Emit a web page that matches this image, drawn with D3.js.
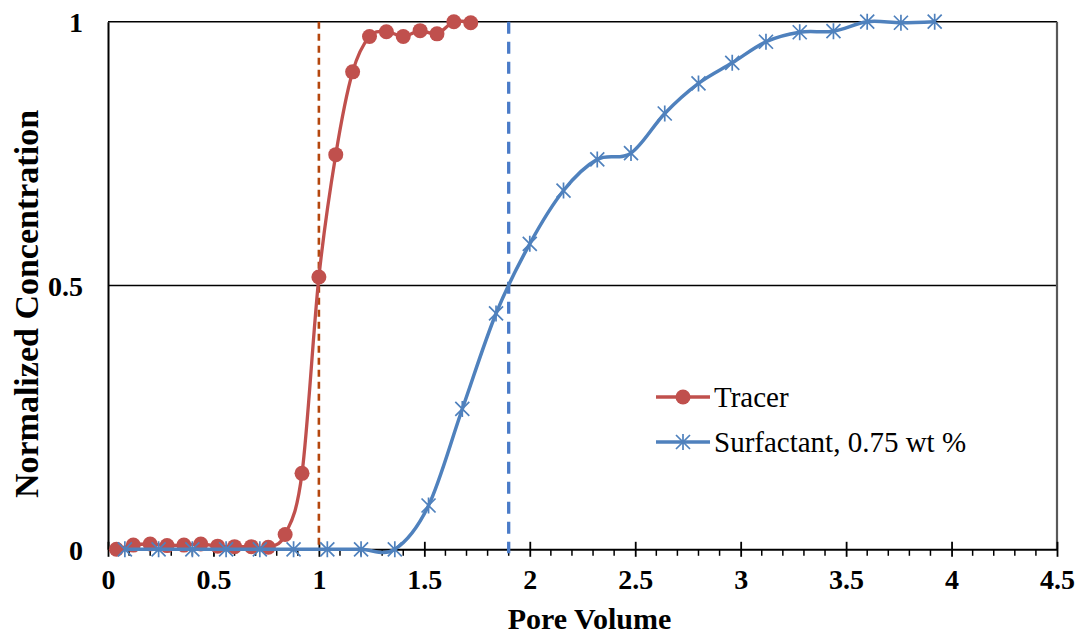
<!DOCTYPE html>
<html>
<head>
<meta charset="utf-8">
<script src="https://cdn.jsdelivr.net/npm/d3@7"></script>
<style>
  html, body { margin: 0; padding: 0; background: #fff; }
  svg { display: block; }
  svg text { font-family: "Liberation Serif", "Times New Roman", "DejaVu Serif", serif; }
</style>
</head>
<body>
<svg id="chart" width="1081" height="637"></svg>
<script>
// ---- data ----
const tracerPV = [0.04, 0.12, 0.20, 0.28, 0.36, 0.44, 0.52, 0.60, 0.68, 0.76, 0.84, 0.92, 1.00, 1.08, 1.16, 1.24, 1.32, 1.40, 1.48, 1.56, 1.64, 1.72];
const tracerC  = [0.000, 0.008, 0.010, 0.007, 0.008, 0.010, 0.006, 0.005, 0.005, 0.004, 0.028, 0.144, 0.516, 0.748, 0.905, 0.972, 0.981, 0.972, 0.983, 0.977, 1.000, 0.998];
const surfPV = [0.08, 0.24, 0.40, 0.56, 0.72, 0.88, 1.04, 1.20, 1.36, 1.52, 1.68, 1.84, 2.00, 2.16, 2.32, 2.48, 2.64, 2.80, 2.96, 3.12, 3.28, 3.44, 3.60, 3.76, 3.92];
const surfC  = [0, 0, 0, 0, 0, 0, 0, 0, 0, 0.083, 0.266, 0.447, 0.579, 0.680, 0.739, 0.751, 0.826, 0.883, 0.922, 0.962, 0.980, 0.982, 1.000, 0.998, 1.000];
const breakthroughPV = [1.0, 1.9];
const xTicks = [0, 0.5, 1, 1.5, 2, 2.5, 3, 3.5, 4, 4.5];
const xTickLabels = ["0", "0.5", "1", "1.5", "2", "2.5", "3", "3.5", "4", "4.5"];
const yTicks = [0, 0.5, 1];
const yTickLabels = ["0", "0.5", "1"];
const seriesNames = ["Tracer", "Surfactant, 0.75 wt %"];

// ---- layout ----
const svg = d3.select("#chart");
const x = d3.scaleLinear().domain([0, 4.5]).range([108, 1057]);
const y = d3.scaleLinear().domain([0, 1]).range([549.3, 21.7]);
const RED = "#c0504d", BLUE = "#4f81bd";
const serif = '"Liberation Serif", "Times New Roman", "DejaVu Serif", serif';

// gridlines (0.5 and 1)
svg.append("g").selectAll("line").data([0.5, 1]).join("line")
  .attr("x1", x(0)).attr("x2", x(4.5))
  .attr("y1", d => y(d)).attr("y2", d => y(d))
  .attr("stroke", "#000").attr("stroke-width", 1.5);

// right border
svg.append("line").attr("x1", x(4.5)).attr("x2", x(4.5))
  .attr("y1", y(1)).attr("y2", y(0))
  .attr("stroke", "#595959").attr("stroke-width", 2.2);

// minor ticks on x axis
const minor = d3.range(0, 45).map(i => i / 10).filter(v => Math.abs(v * 2 - Math.round(v * 2)) > 1e-6);
svg.append("g").selectAll("line").data(minor).join("line")
  .attr("x1", d => x(d)).attr("x2", d => x(d))
  .attr("y1", y(0)).attr("y2", y(0) + 6.5)
  .attr("stroke", "#000").attr("stroke-width", 1.5);

// x axis with major ticks crossing
const xAxis = d3.axisBottom(x).tickValues(xTicks).tickFormat((d, i) => xTickLabels[i]).tickSizeInner(0).tickSizeOuter(0).tickPadding(26);
const gx = svg.append("g").attr("transform", `translate(0,${y(0)})`).call(xAxis);
gx.attr("font-family", null).attr("font-size", null);
gx.select(".domain").attr("stroke", "#000").attr("stroke-width", 2);
gx.selectAll(".tick line").attr("y1", -7.5).attr("y2", 7.5).attr("stroke", "#000").attr("stroke-width", 1.8);
gx.selectAll(".tick text").style("font-family", serif).attr("font-weight", "bold").attr("font-size", 28).attr("fill", "#000").attr("dy", "0.5em");

// y axis
const yAxis = d3.axisLeft(y).tickValues(yTicks).tickFormat((d, i) => yTickLabels[i]).tickSize(0).tickSizeOuter(0).tickPadding(25);
const gy = svg.append("g").attr("transform", `translate(${x(0)},0)`).call(yAxis);
gy.attr("font-family", null).attr("font-size", null);
gy.select(".domain").attr("stroke", "#000").attr("stroke-width", 2);
gy.selectAll(".tick text").style("font-family", serif).attr("font-weight", "bold").attr("font-size", 28).attr("fill", "#000").attr("dy", "0.36em");

// breakthrough dashed lines
svg.append("line").attr("x1", x(breakthroughPV[0])).attr("x2", x(breakthroughPV[0]))
  .attr("y1", y(1)).attr("y2", y(0))
  .attr("stroke", "#b4470e").attr("stroke-width", 2.6).attr("stroke-dasharray", "7,5");
svg.append("line").attr("x1", x(breakthroughPV[1])).attr("x2", x(breakthroughPV[1]))
  .attr("y1", y(1)).attr("y2", y(0) + 4)
  .attr("stroke", "#4a7bc8").attr("stroke-width", 3.3).attr("stroke-dasharray", "12,8");

const line = d3.line().curve(d3.curveCardinal.tension(0)).x(d => x(d[0])).y(d => y(d[1]));
const tracer = tracerPV.map((v, i) => [v, tracerC[i]]);
const surf = surfPV.map((v, i) => [v, surfC[i]]);

// tracer
svg.append("path").datum(tracer).attr("d", line).attr("fill", "none").attr("stroke", RED).attr("stroke-width", 3.3);
svg.append("g").selectAll("circle").data(tracer).join("circle")
  .attr("cx", d => x(d[0])).attr("cy", d => y(d[1])).attr("r", 7.5).attr("fill", RED);

// surfactant
function star(g, cx, cy) {
  const s = 7;
  g.append("path")
    .attr("d", `M${cx - s},${cy - s}L${cx + s},${cy + s}M${cx - s},${cy + s}L${cx + s},${cy - s}M${cx},${cy - s - 1}L${cx},${cy + s + 1}`)
    .attr("stroke", BLUE).attr("stroke-width", 1.7).attr("fill", "none");
}
svg.append("path").datum(surf).attr("d", line).attr("fill", "none").attr("stroke", BLUE).attr("stroke-width", 3.5);
const gs = svg.append("g");
surf.forEach(d => star(gs, x(d[0]), y(d[1])));

// axis titles
svg.append("text").attr("x", (x(0) + x(4.5)) / 2 + 7).attr("y", 629)
  .attr("text-anchor", "middle").style("font-family", serif).attr("font-weight", "bold").attr("font-size", 30)
  .text("Pore Volume");
svg.append("text").attr("transform", `translate(38,${304}) rotate(-90)`)
  .attr("text-anchor", "middle").style("font-family", serif).attr("font-weight", "bold").attr("font-size", 34)
  .text("Normalized Concentration");

// legend
const legend = svg.append("g");
const legY = [397, 442];
legend.append("line").attr("x1", 656).attr("x2", 710).attr("y1", legY[0]).attr("y2", legY[0]).attr("stroke", RED).attr("stroke-width", 3.3);
legend.append("circle").attr("cx", 683).attr("cy", legY[0]).attr("r", 7.5).attr("fill", RED);
legend.append("line").attr("x1", 656).attr("x2", 710).attr("y1", legY[1]).attr("y2", legY[1]).attr("stroke", BLUE).attr("stroke-width", 3.5);
star(legend, 683, legY[1]);
legend.selectAll("text").data(seriesNames).join("text")
  .attr("x", 714).attr("y", (d, i) => legY[i]).attr("dy", "0.34em")
  .style("font-family", serif).attr("font-size", 29).attr("fill", "#000")
  .text(d => d);
</script>
</body>
</html>
